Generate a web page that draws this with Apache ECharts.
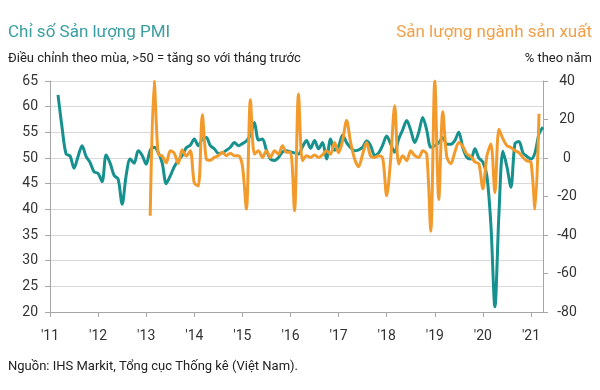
<!DOCTYPE html>
<html>
<head>
<meta charset="utf-8">
<script src="https://cdn.jsdelivr.net/npm/echarts@6/dist/echarts.min.js"></script>
<style>
html,body{margin:0;padding:0;background:#fff;}
#chart{width:600px;height:390px;}
</style>
</head>
<body>
<div id="chart"></div>
<script>
// Month index 0 = Jan 2011 ... 123 = Apr 2021
const yearLabels = ["'11","'12","'13","'14","'15","'16","'17","'18","'19","'20","'21"];

// Output PMI (left axis), Jan 2011 .. Apr 2021
const pmi2011 = [null, null, 62.3, 56.0, 50.8, 50.4, 48.0, 50.3, 52.4, 50.3, 49.1, 47.3];
const pmi2012 = [47.0, 45.4, 50.6, 49.0, 46.6, 45.9, 41.0, 46.6, 49.8, 49.0, 51.4, 50.5];
const pmi2013 = [48.8, 51.5, 52.1, 51.1, 49.0, 45.0, 46.5, 48.3, 49.5, 50.5, 52.0, 52.5];
const pmi2014 = [53.7, 52.4, 53.7, 54.0, 52.4, 51.8, 50.9, 51.0, 51.5, 52.1, 53.0, 52.4];
const pmi2015 = [52.8, 53.3, 54.5, 56.9, 53.5, 53.7, 51.5, 49.8, 49.5, 50.1, 51.2, 51.4];
const pmi2016 = [51.2, 51.0, 50.8, 52.2, 53.4, 51.9, 53.4, 51.8, 53.0, 49.8, 53.7, 51.5];
const pmi2017 = [52.3, 54.5, 53.0, 52.0, 51.4, 51.6, 52.1, 53.3, 52.4, 50.5, 51.0, 52.5];
const pmi2018 = [54.3, 52.7, 51.1, 53.7, 55.5, 57.3, 55.4, 53.0, 55.0, 57.9, 55.4, 52.1];
const pmi2019 = [52.4, 53.0, 54.0, 52.7, 52.7, 53.4, 55.0, 52.0, 50.1, 49.8, 51.8, 50.0];
const pmi2020 = [49.2, 46.5, 37.0, 21.0, 39.0, 51.3, 48.3, 44.3, 52.8, 53.2, 51.0, 50.3];
const pmi2021 = [49.8, 51.0, 54.7, 56.0];

// Manufacturing output, % y/y (right axis), Jan 2011 .. Mar 2021
const ip2011 = [null, null, null, null, null, null, null, null, null, null, null, null];
const ip2012 = [null, null, null, null, null, null, null, null, null, null, null, null];
const ip2013 = [null, -30, 40, 2, 1, -2.5, 3.8, 2.5, -2.8, 4.3, 1, 3.8];
const ip2014 = [-13, -14.5, 22.5, -0.5, -1.2, 0.3, 1.2, 3, 1.2, 2.5, 1.2, 1.2];
const ip2015 = [-4, -26.5, 30.3, 2, 3.8, 0.3, 3.8, 0.3, 3.8, 2, 6.4, 3];
const ip2016 = [3, -27.4, 33.2, -1.4, 1.2, 0.3, 1.6, 0.3, 1.6, 3.8, 2, 8.1];
const ip2017 = [2.8, 9, 19.5, 8.1, -0.5, -4.5, 2, 8, 1, 0.3, 1.2, 0];
const ip2018 = [-19.6, -0.5, 27.2, -3.1, 1.2, -1.4, 3.8, 1.2, 0.3, 3.8, 2, -38];
const ip2019 = [40, -21.5, 24, 0.5, -3, 3, 8.1, 6, 2, 0.8, -2, -3];
const ip2020 = [-16, 1, 7.3, -18, 15, 10, 6.4, 5.5, 3.8, 2.8, 0.3, -1.5];
const ip2021 = [-2.2, -26.5, 23];

const pmiValues = [].concat(pmi2011, pmi2012, pmi2013, pmi2014, pmi2015, pmi2016, pmi2017, pmi2018, pmi2019, pmi2020, pmi2021);
const ipValues = [].concat(ip2011, ip2012, ip2013, ip2014, ip2015, ip2016, ip2017, ip2018, ip2019, ip2020, ip2021);

const toPoints = arr => arr.map((v, i) => [i, v]).filter(p => p[1] !== null);

const TEAL = '#16918e';
const ORANGE = '#f29b2c';
const FONT = 'Roboto';

const chart = echarts.init(document.getElementById('chart'), null, {renderer: 'canvas'});
chart.setOption({
  animation: false,
  backgroundColor: '#ffffff',
  textStyle: {fontFamily: FONT},
  grid: {left: 50, right: 57, top: 81, bottom: 78, containLabel: false},
  xAxis: {
    type: 'value', min: 0, max: 123, interval: 12,
    axisLine: {show: true, onZero: false, lineStyle: {color: '#a6a6a6', width: 1}},
    axisTick: {show: true, length: 5, lineStyle: {color: '#a6a6a6'}},
    splitLine: {show: false},
    axisLabel: {
      color: '#333', fontSize: 14, margin: 17, fontFamily: FONT,
      formatter: v => yearLabels[Math.round(v / 12)] || ''
    }
  },
  yAxis: [
    {
      type: 'value', min: 20, max: 65, interval: 5, position: 'left',
      axisLine: {show: true, lineStyle: {color: '#a6a6a6', width: 1}},
      axisTick: {show: true, length: 5, lineStyle: {color: '#a6a6a6'}},
      splitLine: {show: true, lineStyle: {color: '#d9d9d9', width: 1}},
      axisLabel: {color: '#333', fontSize: 14, margin: 12, fontFamily: FONT}
    },
    {
      type: 'value', min: -80, max: 40, interval: 20, position: 'right',
      axisLine: {show: true, lineStyle: {color: '#a6a6a6', width: 1}},
      axisTick: {show: true, length: 5, lineStyle: {color: '#a6a6a6'}},
      splitLine: {show: false},
      axisLabel: {color: '#333', fontSize: 14, margin: 24, align: 'center', fontFamily: FONT}
    }
  ],
  series: [
    {
      name: 'PMI', type: 'line', yAxisIndex: 0, data: toPoints(pmiValues),
      showSymbol: false, smooth: 0.3,
      lineStyle: {color: TEAL, width: 3}, itemStyle: {color: TEAL}, z: 2
    },
    {
      name: 'IP', type: 'line', yAxisIndex: 1, data: toPoints(ipValues),
      showSymbol: false, smooth: 0.3,
      lineStyle: {color: ORANGE, width: 3}, itemStyle: {color: ORANGE}, z: 3
    }
  ],
  graphic: [
    {type: 'text', left: 8, top: 24, style: {text: 'Chỉ số Sản lượng PMI', fill: '#3a9ea0', font: '17px Roboto'}},
    {type: 'text', left: 8, top: 52, style: {text: 'Điều chỉnh theo mùa, >50 = tăng so với tháng trước', fill: '#222', font: '13px Roboto'}},
    {type: 'text', right: 8, top: 24, style: {text: 'Sản lượng ngành sản xuất', fill: '#f0a048', font: '17px Roboto'}},
    {type: 'text', right: 8, top: 52, style: {text: '% theo năm', fill: '#222', font: '13px Roboto'}},
    {type: 'text', left: 8, top: 360, style: {text: 'Nguồn: IHS Markit, Tổng cục Thống kê (Việt Nam).', fill: '#222', font: '13px Roboto'}}
  ]
});
</script>
</body>
</html>
